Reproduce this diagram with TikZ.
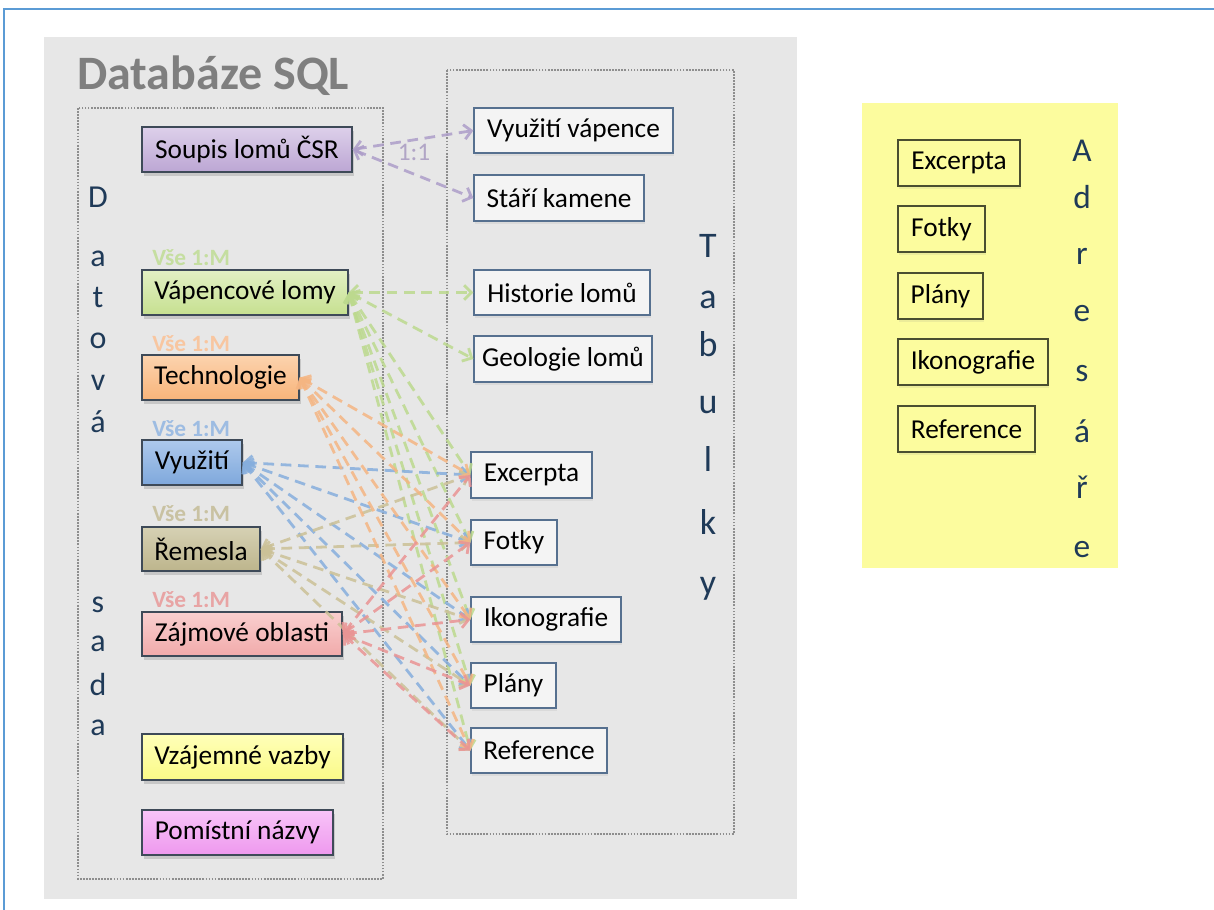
\documentclass[tikz,border=0pt]{standalone}
\usepackage{fontspec}
\setmainfont{Carlito}
\usetikzlibrary{arrows.meta,shadows}
\definecolor{frameblue}{HTML}{5B9BD5}
\definecolor{bggray}{HTML}{E7E7E7}
\definecolor{dotgray}{HTML}{8E8E8E}
\definecolor{titlegray}{HTML}{7F7F7F}
\definecolor{lettercol}{HTML}{1F3A58}
\definecolor{panelyellow}{HTML}{FCFC9E}
\definecolor{lborder}{HTML}{3E4A58}
\definecolor{tborder}{HTML}{56708F}
\definecolor{aborder}{HTML}{4A4E30}
% box fills
\definecolor{fsoupisA}{HTML}{DDD0EA}\definecolor{fsoupisB}{HTML}{BCA6D4}
\definecolor{fvapA}{HTML}{E2F0C4}\definecolor{fvapB}{HTML}{C6E090}
\definecolor{ftechA}{HTML}{FCD3AE}\definecolor{ftechB}{HTML}{F8B47A}
\definecolor{fvyuA}{HTML}{ADC9EC}\definecolor{fvyuB}{HTML}{7FA8DC}
\definecolor{fremA}{HTML}{D6D1B4}\definecolor{fremB}{HTML}{BDB58C}
\definecolor{fzajA}{HTML}{F9CFCF}\definecolor{fzajB}{HTML}{F1AAAA}
\definecolor{fvzaA}{HTML}{FFFFB8}\definecolor{fvzaB}{HTML}{FAFA88}
\definecolor{fpomA}{HTML}{F8C4F8}\definecolor{fpomB}{HTML}{EE98EE}
% connector colours
\definecolor{cpurple}{HTML}{AD9DC9}
\definecolor{cgreen}{HTML}{BCD98E}
\definecolor{corange}{HTML}{F5B582}
\definecolor{cblue}{HTML}{86AEDD}
\definecolor{ctan}{HTML}{CBC197}
\definecolor{cpink}{HTML}{EA9494}
% label colours
\definecolor{lgreen}{HTML}{C5DEA0}
\definecolor{lorange}{HTML}{F8C6A0}
\definecolor{lblue}{HTML}{9DBCE2}
\definecolor{ltan}{HTML}{C9C2A2}
\definecolor{lpink}{HTML}{E8A4A4}
\definecolor{lpurple}{HTML}{B1A5C6}
\begin{document}
\begin{tikzpicture}[x=0.75pt,y=-0.75pt,
  sz/.style 2 args={minimum width=#1*0.75pt, minimum height=#2*0.75pt},
  lbox/.style 2 args={draw=lborder, line width=1.1pt, inner sep=0pt,
    top color=#1, bottom color=#2, font=\fontsize{20.5}{23}\selectfont,
    drop shadow={shadow xshift=1.2pt, shadow yshift=-3pt, opacity=0.3}},
  tbox/.style={draw=tborder, line width=0.9pt, fill=white!55!bggray, inner sep=0pt,
    font=\fontsize{20.5}{23}\selectfont,
    drop shadow={shadow xshift=1pt, shadow yshift=-2.5pt, opacity=0.12}},
  abox/.style={draw=aborder, line width=0.8pt, fill=panelyellow, inner sep=0pt,
    font=\fontsize{20.5}{23}\selectfont,
    drop shadow={shadow xshift=1pt, shadow yshift=-2.5pt, opacity=0.12}},
  dotbox/.style={draw=dotgray, densely dotted, line width=1.3pt},
  bigletter/.style={text=lettercol, font=\fontsize{#1}{#1}\selectfont, anchor=base, inner sep=0pt},
  vse/.style={font=\bfseries\fontsize{17.5}{20}\selectfont, anchor=west, inner sep=0pt},
  conn/.style={line width=2.1pt, dash pattern=on 8pt off 5pt, draw opacity=0.85,
    {Straight Barb[length=5.5pt,width=11pt]}-{Straight Barb[length=5.5pt,width=11pt]}}
]
\useasboundingbox (0,0) rectangle (1214,910);
\fill[white] (0,0) rectangle (1214,910);
\draw[frameblue, line width=1.6pt] (4,912) -- (4,9) -- (1216,9);
\fill[bggray] (44,37) rectangle (797,899);
\fill[panelyellow] (862,103) rectangle (1118,568);

\node[anchor=west, inner sep=0pt, text=titlegray, font=\bfseries\fontsize{36}{38}\selectfont] (title) at (77,76) {Databáze SQL};

\draw[dotbox] (78,108) rectangle (383,879);
\draw[dotbox] (447,70) rectangle (734,834);

% Datová sada
\foreach \ch/\yy [count=\i] in {D/207,a/266,t/307,o/348,v/390,á/432,s/612,a/651,d/695,a/735}
  \node[bigletter=24] (ds\i) at (98,\yy) {\ch};
% Tabulky
\foreach \ch/\yy [count=\i] in {T/257,a/308,b/356,u/413,l/471,k/534,y/594}
  \node[bigletter=27] (tb\i) at (708,\yy) {\ch};
% Adresáře
\foreach \ch/\yy [count=\i] in {A/161,d/208,r/264,e/321,s/381,á/442,ř/498,e/557}
  \node[bigletter=25] (ad\i) at (1082,\yy) {\ch};

% left data boxes
\node[lbox={fsoupisA}{fsoupisB}, sz={210}{45}] (soupis) at (247,149.5) {Soupis lomů ČSR};
\node[lbox={fvapA}{fvapB}, sz={206}{45}] (vapen) at (245,292.5) {Vápencové lomy};
\node[lbox={ftechA}{ftechB}, sz={157}{45}] (tech) at (220.5,377.5) {Technologie};
\node[lbox={fvyuA}{fvyuB}, sz={100}{45}] (vyuz) at (192,462.5) {Využití};
\node[lbox={fremA}{fremB}, sz={118}{44}] (rem) at (201,549) {Řemesla};
\node[lbox={fzajA}{fzajB}, sz={200}{44}] (zaj) at (242,634) {Zájmové oblasti};
\node[lbox={fvzaA}{fvzaB}, sz={201}{46}] (vzaj) at (242.5,757) {Vzájemné vazby};
\node[lbox={fpomA}{fpomB}, sz={191}{45}] (pom) at (237.5,832.5) {Pomístní názvy};

% Vše 1:M labels
\node[vse, text=lgreen] (v1) at (152,258) {Vše 1:M};
\node[vse, text=lorange] (v2) at (152,344) {Vše 1:M};
\node[vse, text=lblue] (v3) at (152,429) {Vše 1:M};
\node[vse, text=ltan] (v4) at (152,514) {Vše 1:M};
\node[vse, text=lpink] (v5) at (152,600) {Vše 1:M};

% table boxes
\node[tbox, sz={199}{45}] (vv) at (573.5,130.5) {Využití vápence};
\node[tbox, sz={170}{46}] (sk) at (559,198) {Stáří kamene};
\node[tbox, sz={176}{45}] (hl) at (562,292.5) {Historie lomů};
\node[tbox, sz={178}{46}] (gl) at (563,359) {Geologie lomů};
\node[tbox, sz={121}{46}] (exc) at (531.5,475) {Excerpta};
\node[tbox, sz={86}{45}] (fot) at (514,542.5) {Fotky};
\node[tbox, sz={150}{45}] (iko) at (546,619.5) {Ikonografie};
\node[tbox, sz={85}{45}] (pla) at (513.5,685.5) {Plány};
\node[tbox, sz={136}{45}] (ref) at (539,750.5) {Reference};

% Adresáře boxes
\node[abox, sz={122}{46}] (aexc) at (959,163) {Excerpta};
\node[abox, sz={87}{46}] (afot) at (941.5,229) {Fotky};
\node[abox, sz={85}{46}] (apla) at (940.5,296) {Plány};
\node[abox, sz={150}{46}] (aiko) at (973,362) {Ikonografie};
\node[abox, sz={137}{46}] (aref) at (966.5,429) {Reference};

% connectors
\draw[conn, cpurple] (soupis.east) -- (vv.west);
\draw[conn, cpurple] (soupis.east) -- (sk.west);
\node[text=lpurple, font=\fontsize{19}{21}\selectfont, inner sep=0pt] (one) at (414,152) {1:1};

\draw[conn, cgreen] (vapen.east) -- (hl.west);
\draw[conn, cgreen] (vapen.east) -- (gl.west);
\foreach \t in {exc,fot,iko,pla,ref} \draw[conn, cgreen] (vapen.east) -- (\t.west);
\foreach \t in {exc,fot,iko,pla,ref} \draw[conn, cblue] (vyuz.east) -- (\t.west);
\foreach \t in {exc,fot,iko,pla,ref} \draw[conn, ctan] (rem.east) -- (\t.west);
\foreach \t in {exc,fot,iko,pla,ref} \draw[conn, corange] (tech.east) -- (\t.west);
\foreach \t in {exc,fot,iko,pla,ref} \draw[conn, cpink] (zaj.east) -- (\t.west);
\end{tikzpicture}
\end{document}
